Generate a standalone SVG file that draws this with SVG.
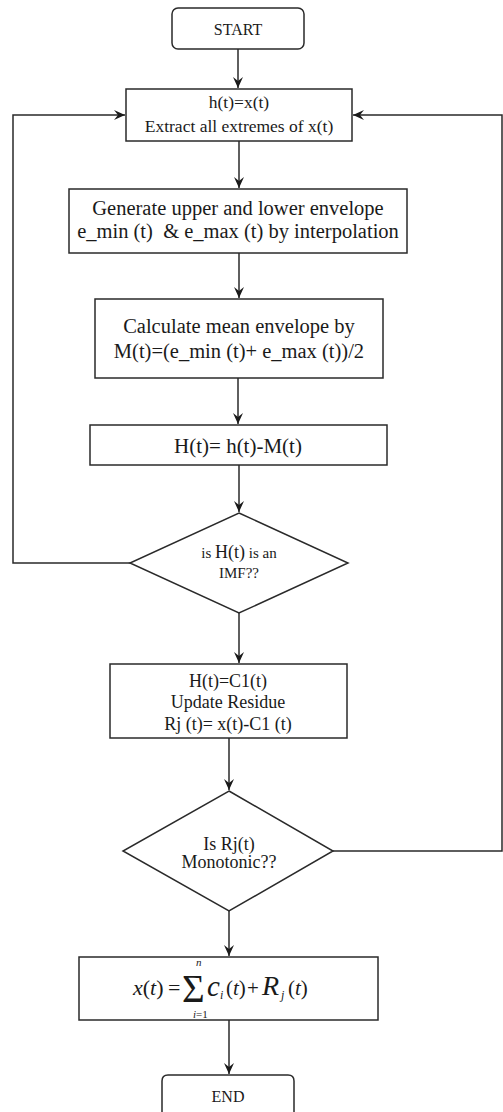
<svg xmlns="http://www.w3.org/2000/svg" width="503" height="1112" viewBox="0 0 503 1112">
<defs>
<marker id="ah" markerUnits="userSpaceOnUse" markerWidth="12" markerHeight="12" refX="11" refY="5" orient="auto">
<path d="M0,0 L11,5 L0,10 L4,5 Z" fill="#1a1a1a"/>
</marker>
<style>
.box{fill:#fff;stroke:#2a2a2a;stroke-width:1.5}
.ln{fill:none;stroke:#2a2a2a;stroke-width:1.5}
.t{font-family:"Liberation Serif","Times New Roman",serif;fill:#1a1a1a;text-anchor:middle}
.f{font-family:"Liberation Serif","Times New Roman",serif;fill:#1a1a1a}
</style>
</defs>
<rect width="503" height="1112" fill="#fff"/>
<g id="connectors">
<line class="ln" x1="238" y1="49" x2="238" y2="88" marker-end="url(#ah)"/>
<line class="ln" x1="239" y1="141" x2="239" y2="188" marker-end="url(#ah)"/>
<line class="ln" x1="239" y1="253" x2="239" y2="298" marker-end="url(#ah)"/>
<line class="ln" x1="238" y1="378" x2="238" y2="424" marker-end="url(#ah)"/>
<line class="ln" x1="239" y1="465" x2="239" y2="512" marker-end="url(#ah)"/>
<polyline class="ln" points="130,563 13,563 13,115 125,115" marker-end="url(#ah)"/>
<line class="ln" x1="239" y1="613" x2="239" y2="663" marker-end="url(#ah)"/>
<line class="ln" x1="229" y1="738" x2="229" y2="790" marker-end="url(#ah)"/>
<polyline class="ln" points="333,851 502,851 502,115 353,115" marker-end="url(#ah)"/>
<line class="ln" x1="229" y1="911" x2="229" y2="956" marker-end="url(#ah)"/>
<line class="ln" x1="229" y1="1020" x2="229" y2="1074" marker-end="url(#ah)"/>
</g>
<g id="start">
<rect class="box" x="172" y="8" width="132" height="41" rx="6"/>
<text class="t" x="238" y="35" font-size="16">START</text>
</g>
<g id="box1">
<rect class="box" x="126" y="89" width="226" height="52"/>
<text class="t" x="239" y="108" font-size="17.5">h(t)=x(t)</text>
<text class="t" x="239" y="132" font-size="17.5">Extract all extremes of x(t)</text>
</g>
<g id="box2">
<rect class="box" x="69" y="189" width="338" height="64"/>
<text class="t" x="238" y="215" font-size="20.5">Generate upper and lower envelope</text>
<text class="t" x="238" y="238" font-size="20.5" xml:space="preserve">e_min (t)  &amp; e_max (t) by interpolation</text>
</g>
<g id="box3">
<rect class="box" x="95" y="299" width="288" height="79"/>
<text class="t" x="239" y="333" font-size="20.5">Calculate mean envelope by</text>
<text class="t" x="239" y="358" font-size="20.5">M(t)=(e_min (t)+ e_max (t))/2</text>
</g>
<g id="box4">
<rect class="box" x="90" y="425" width="297" height="40"/>
<text class="t" x="238" y="453" font-size="21">H(t)= h(t)-M(t)</text>
</g>
<g id="decision1">
<polygon class="box" points="239,513 348,563 239,613 130,563"/>
<text class="t" x="239" y="558" font-size="15">is <tspan font-size="18">H(t)</tspan> is an</text>
<text class="t" x="239" y="578" font-size="15">IMF??</text>
</g>
<g id="box5">
<rect class="box" x="110" y="664" width="237" height="74"/>
<text class="t" x="228" y="687" font-size="18">H(t)=C1(t)</text>
<text class="t" x="228" y="708" font-size="18">Update Residue</text>
<text class="t" x="228" y="730" font-size="18">Rj (t)= x(t)-C1 (t)</text>
</g>
<g id="decision2">
<polygon class="box" points="229,791 333,851 229,911 123,851"/>
<text class="t" x="229" y="850" font-size="18">Is Rj(t)</text>
<text class="t" x="229" y="868" font-size="18">Monotonic??</text>
</g>
<g id="box6">
<rect class="box" x="79" y="957" width="299" height="63"/>
<text class="f" x="133" y="995" font-size="22"><tspan font-style="italic">x</tspan>(<tspan font-style="italic">t</tspan>)</text>
<text class="f" x="168" y="995" font-size="22">=</text>
<text class="f" x="182" y="1002" font-size="39">Σ</text>
<text class="f" x="196" y="966" font-size="11" font-style="italic">n</text>
<text class="f" x="193" y="1018" font-size="11"><tspan font-style="italic">i</tspan>=1</text>
<text class="f" x="207" y="996" font-size="29" font-style="italic">c</text>
<text class="f" x="220" y="999" font-size="12" font-style="italic">i</text>
<text class="f" x="226" y="995" font-size="21">(<tspan font-style="italic">t</tspan>)</text>
<text class="f" x="247" y="995" font-size="21">+</text>
<text class="f" x="262" y="995" font-size="28" font-style="italic">R</text>
<text class="f" x="281" y="999" font-size="12" font-style="italic">j</text>
<text class="f" x="288" y="995" font-size="21">(<tspan font-style="italic">t</tspan>)</text>
</g>
<g id="end">
<path class="box" d="M162,1120 L162,1081 Q162,1075 168,1075 L288,1075 Q294,1075 294,1081 L294,1120"/>
<text class="t" x="228" y="1102" font-size="16">END</text>
</g>
</svg>
